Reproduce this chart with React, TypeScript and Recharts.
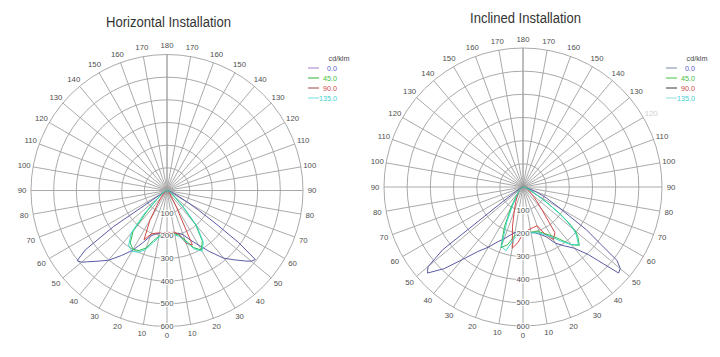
import React from 'react';
import { RadarChart, Radar, PolarGrid, PolarAngleAxis, PolarRadiusAxis } from 'recharts';

// gamma angles (deg from nadir) used for every curve, each side
const GAMMA = [0, 5, 10, 15, 20, 25, 30, 35, 40, 44, 48, 50, 52, 54, 56, 58, 60, 65, 70, 80, 90];

// Horizontal installation (cd/klm); L = left half, R = right half
const hC0L = [193, 192, 193, 198, 215, 255, 305, 350, 402, 433, 470, 492, 503, 445, 285, 45, 12, 8, 5, 2, 0];
const hC0R = [193, 193, 194, 195, 208, 240, 278, 330, 390, 425, 465, 485, 495, 390, 250, 165, 110, 45, 20, 5, 0];
const hC45L = [190, 192, 205, 228, 270, 292, 300, 283, 232, 125, 65, 50, 40, 32, 26, 22, 18, 12, 8, 3, 0];
const hC45R = [190, 190, 195, 203, 232, 278, 303, 272, 195, 105, 55, 45, 38, 32, 27, 22, 18, 12, 8, 3, 0];
const hC90L = [185, 186, 190, 195, 205, 240, 150, 70, 38, 25, 18, 15, 13, 12, 10, 9, 8, 6, 4, 2, 0];
const hC90R = [185, 186, 187, 198, 248, 265, 80, 30, 20, 15, 12, 11, 10, 9, 8, 7, 6, 5, 4, 2, 0];
const hC135L = [192, 195, 210, 238, 278, 300, 310, 295, 245, 150, 75, 55, 45, 36, 30, 25, 20, 13, 8, 3, 0];
const hC135R = [192, 193, 198, 210, 240, 285, 308, 280, 205, 115, 60, 50, 42, 35, 28, 23, 19, 12, 8, 3, 0];

// Inclined installation (cd/klm)
const iC0L = [195, 195, 200, 215, 238, 262, 300, 340, 410, 490, 555, 535, 440, 110, 50, 30, 20, 10, 5, 2, 0];
const iC0R = [195, 197, 200, 205, 218, 237, 280, 310, 345, 405, 555, 548, 515, 400, 330, 235, 185, 110, 60, 15, 0];
const iC45L = [195, 200, 215, 258, 278, 190, 105, 60, 38, 25, 20, 18, 16, 14, 12, 11, 10, 7, 5, 2, 0];
const iC45R = [195, 195, 198, 200, 206, 222, 242, 275, 325, 350, 318, 295, 250, 200, 140, 100, 70, 40, 20, 5, 0];
const iC90L = [200, 240, 268, 175, 110, 75, 55, 40, 30, 25, 20, 18, 16, 14, 12, 11, 10, 7, 5, 2, 0];
const iC90R = [200, 190, 183, 180, 178, 225, 262, 240, 125, 85, 60, 50, 45, 40, 35, 30, 27, 20, 12, 5, 0];
const iC135L = [195, 205, 228, 285, 272, 165, 85, 50, 32, 25, 20, 18, 16, 14, 12, 11, 10, 7, 5, 2, 0];
const iC135R = [195, 196, 200, 205, 212, 228, 250, 285, 325, 345, 310, 285, 240, 190, 135, 95, 70, 40, 20, 5, 0];

const SERIES_KEYS = ['c0', 'c45', 'c90', 'c135'];
const LEGEND_LABELS = ['0.0', '45.0', '90.0', '135.0'];
const SERIES_COLORS = ['#5b5ba6', '#2fbf4f', '#d24a4a', '#3fd9c9'];
const LEGEND_TEXT_COLORS = ['#5a5ac8', '#40c040', '#c84848', '#40d0d0'];
const LEFT_LEGEND_LINES = ['#a080d0', '#30b030', '#a04848', '#70e0e0'];
const RIGHT_LEGEND_LINES = ['#7888a8', '#40c040', '#383838', '#90e0e0'];

const FONT = "'Liberation Sans', Arial, sans-serif";

function buildTable(lefts: number[][], rights: number[][]) {
  const rows: any[] = [];
  for (let i = GAMMA.length - 1; i >= 1; i--) {
    const row: any = { g: -GAMMA[i] };
    SERIES_KEYS.forEach((k, j) => (row[k] = lefts[j][i]));
    rows.push(row);
  }
  for (let i = 0; i < GAMMA.length; i++) {
    const row: any = { g: GAMMA[i] };
    SERIES_KEYS.forEach((k, j) => (row[k] = rights[j][i]));
    rows.push(row);
  }
  return rows;
}

const hData = buildTable([hC0L, hC45L, hC90L, hC135L], [hC0R, hC45R, hC90R, hC135R]);
const iData = buildTable([iC0L, iC45L, iC90L, iC135L], [iC0R, iC45R, iC90R, iC135R]);

const makeAngleTick = (fadeValue: number | null) => (props: any) => {
  const { x, y, payload } = props;
  const v = payload.value;
  return (
    <text x={x} y={y} textAnchor="middle" dominantBaseline="central" fontSize={7.8}
      fontFamily={FONT} fill={v === fadeValue ? '#d0d0d0' : '#505050'}>
      {Math.abs(v)}
    </text>
  );
};

const RadiusTick = (props: any) => {
  const { x, y, payload } = props;
  if (payload.value === 0) return <g />;
  return (
    <text x={x} y={y} textAnchor="middle" dominantBaseline="central" fontSize={7.8}
      fontFamily={FONT} fill="#505050" stroke="#fff" strokeWidth={2} paintOrder="stroke">
      {payload.value}
    </text>
  );
};

function Polar({ data, cx, cy, r, fade }: any) {
  return (
    <RadarChart width={360} height={357} data={data} cx={cx} cy={cy} outerRadius={r}
      startAngle={-270} endAngle={90} margin={{ top: 0, right: 0, bottom: 0, left: 0 }}>
      <PolarGrid gridType="circle" stroke="#a0a0a0" strokeWidth={0.9} />
      <PolarAngleAxis dataKey="g" type="number" domain={[-180, 180]} tickCount={37}
        tickLine={false} axisLine={false} tickSize={9} tick={makeAngleTick(fade)} />
      <PolarRadiusAxis angle={-90} domain={[0, 600]} tickCount={7} axisLine={false}
        tickLine={false} tick={RadiusTick} />
      {SERIES_KEYS.map((k, j) => (
        <Radar key={k} dataKey={k} stroke={SERIES_COLORS[j]} strokeWidth={1} fill="none"
          fillOpacity={0} dot={false} isAnimationActive={false} />
      ))}
    </RadarChart>
  );
}

function Legend({ x0, lineColors }: { x0: number; lineColors: string[] }) {
  return (
    <g fontFamily={FONT} fontSize={7.2}>
      <text x={x0 + 31} y={58} textAnchor="middle" dominantBaseline="central" fill="#444">cd/klm</text>
      {LEGEND_LABELS.map((l, j) => (
        <g key={l}>
          <line x1={x0} x2={x0 + 11} y1={68 + j * 10} y2={68 + j * 10} stroke={lineColors[j]} strokeWidth={1} />
          <text x={x0 + 29} y={68 + j * 10} textAnchor="end" dominantBaseline="central"
            fill={LEGEND_TEXT_COLORS[j]}>{l}</text>
        </g>
      ))}
    </g>
  );
}

export default function App() {
  return (
    <div style={{ position: 'absolute', left: 0, top: 0, width: 720, height: 357, background: '#fff' }}>
      <div style={{ position: 'absolute', left: 0, top: 0 }}>
        <Polar data={hData} cx={167} cy={190.5} r={136} fade={null} />
      </div>
      <div style={{ position: 'absolute', left: 360, top: 0 }}>
        <Polar data={iData} cx={163} cy={187} r={139} fade={120} />
      </div>
      <svg width={720} height={357} style={{ position: 'absolute', left: 0, top: 0, pointerEvents: 'none' }}>
        <text x={168.5} y={26.5} textAnchor="middle" fontSize={15.5} fontFamily={FONT} fill="#333"
          textLength={125} lengthAdjust="spacingAndGlyphs">Horizontal Installation</text>
        <text x={525.5} y={22.5} textAnchor="middle" fontSize={15.5} fontFamily={FONT} fill="#333"
          textLength={111} lengthAdjust="spacingAndGlyphs">Inclined Installation</text>
        <Legend x0={308} lineColors={LEFT_LEGEND_LINES} />
        <Legend x0={666} lineColors={RIGHT_LEGEND_LINES} />
      </svg>
    </div>
  );
}
